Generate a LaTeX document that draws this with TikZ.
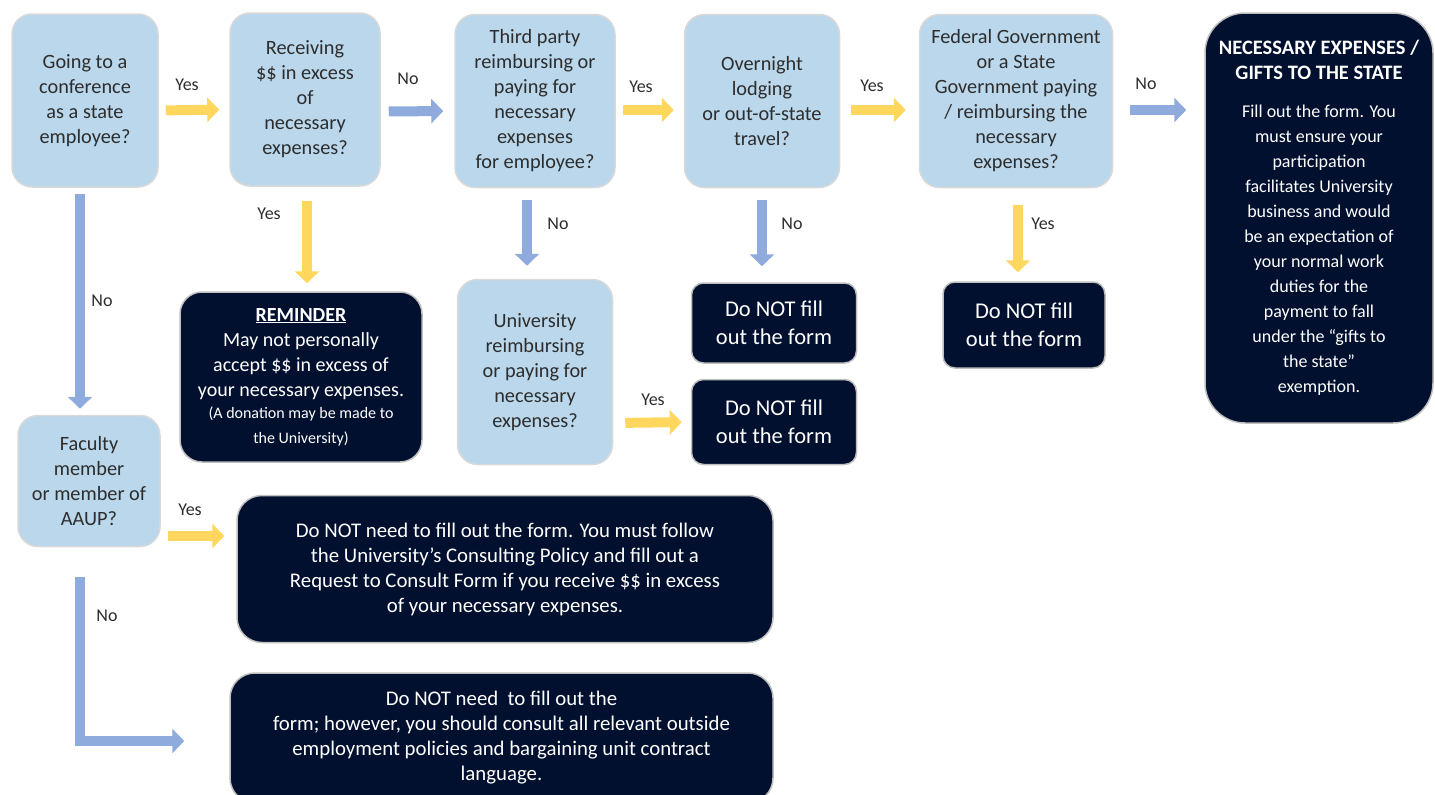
\documentclass[tikz,border=0pt]{standalone}
\usepackage{fontspec}
\setmainfont{Carlito}
\usetikzlibrary{arrows.meta}

\definecolor{qblue}{RGB}{186,215,236}
\definecolor{navy}{RGB}{2,16,48}
\definecolor{yesyellow}{RGB}{255,215,95}
\definecolor{noblue}{RGB}{143,170,220}
\definecolor{txtgray}{RGB}{45,45,45}

\tikzset{
  question/.style={draw=black!15, line width=1.5pt, fill=qblue, text=txtgray,
    rounded corners=20pt, align=center, inner sep=0pt,
    font=\fontsize{20.3}{25}\selectfont},
  answer/.style={draw=black!25, line width=1.5pt, fill=navy, text=white,
    rounded corners=12pt, align=center, inner sep=0pt,
    font=\fontsize{22.5}{28}\selectfont},
  yesarrow/.style={draw=yesyellow, line width=10pt,
    -{Triangle[length=12pt,width=24pt]}, shorten <=7pt, shorten >=10pt},
  noarrow/.style={yesarrow, draw=noblue},
  lbl/.style={text=txtgray, font=\fontsize{18}{20}\selectfont},
}

\begin{document}
\begin{tikzpicture}[x=1pt,y=-1pt]
  \useasboundingbox (0,0) rectangle (1435,795);
  % questions
  \node[question, minimum width=146pt, minimum height=173pt] (conf) at (85,100.5)
    {Going to a\\conference\\as a state\\employee?};
  \node[question, minimum width=150pt, minimum height=173pt] (recv) at (305,99.5)
    {Receiving\\\$\$ in excess\\of\\necessary\\expenses?};
  \node[question, minimum width=160pt, minimum height=173pt] (third) at (535,101)
    {Third party\\reimbursing or\\paying for\\necessary\\expenses\\for employee?};
  \node[question, minimum width=155pt, minimum height=173pt] (over) at (762,101)
    {Overnight\\lodging\\or out-of-state\\travel?};
  \node[question, minimum width=193pt, minimum height=173pt] (fed) at (1016,101)
    {Federal Government\\or a State\\Government paying\\/ reimbursing the\\necessary\\expenses?};
  \node[question, minimum width=155pt, minimum height=185pt] (univ) at (535,372)
    {University\\reimbursing\\or paying for\\necessary\\expenses?};
  \node[question, minimum width=142pt, minimum height=131pt] (fac) at (89,481)
    {Faculty\\member\\or member of\\AAUP?};
  % outcomes
  \node[answer, rounded corners=40pt, minimum width=228pt, minimum height=410pt,
    font=\fontsize{18}{25}\selectfont] (gifts) at (1319,218)
    {\fontsize{20.5}{25}\selectfont\textbf{NECESSARY EXPENSES /}\\
     \fontsize{20.5}{25}\selectfont\textbf{GIFTS TO THE STATE}\\[13pt]
     Fill out the form. You\\must ensure your\\participation\\facilitates University\\
     business and would\\be an expectation of\\your normal work\\duties for the\\
     payment to fall\\under the “gifts to\\the state”\\exemption.};
  \node[answer, rounded corners=22pt, minimum width=242pt, minimum height=170pt,
    font=\fontsize{20}{25}\selectfont] (remind) at (301,377)
    {\underline{\textbf{REMINDER}}\\May not personally\\accept \$\$ in excess of\\
     your necessary expenses.\\[-3pt]
     \fontsize{16}{21}\selectfont (A donation may be made to\\
     \fontsize{16}{21}\selectfont the University)};
  \node[answer, minimum width=165pt, minimum height=80pt] (dnover) at (774,323)
    {Do NOT fill\\out the form};
  \node[answer, minimum width=165pt, minimum height=85pt] (dnuniv) at (774,422)
    {Do NOT fill\\out the form};
  \node[answer, minimum width=162pt, minimum height=86pt] (dnfed) at (1024,325)
    {Do NOT fill\\out the form};
  \node[answer, rounded corners=25pt, minimum width=536pt, minimum height=147pt,
    font=\fontsize{20.8}{25}\selectfont] (consult) at (505,569)
    {Do NOT need to fill out the form. You must follow\\
     the University’s Consulting Policy and fill out a\\
     Request to Consult Form if you receive \$\$ in excess\\
     of your necessary expenses.};
  \node[answer, rounded corners=25pt, minimum width=543pt, minimum height=130pt,
    font=\fontsize{20.8}{25}\selectfont] (outside) at (501.5,738)
    {Do NOT need\ \ to fill out the\\
     form; however, you should consult all relevant outside\\
     employment policies and bargaining unit contract\\
     language.};
  % arrows
  \draw[yesarrow] ([yshift=-10pt]conf.east) -- ([yshift=-10pt]recv.west);
  \draw[noarrow, shorten <=8pt, shorten >=11pt] ([yshift=-12pt]recv.east) -- ([yshift=-10pt]third.west);
  \draw[yesarrow] ([yshift=-9pt]third.east) -- ([yshift=-9pt]over.west);
  \draw[yesarrow, shorten <=11pt, shorten >=13pt] ([yshift=-9pt]over.east) -- ([yshift=-9pt]fed.west);
  \draw[noarrow, shorten <=17pt, shorten >=18pt] ([yshift=-9pt]fed.east) -- ([yshift=-9pt]fed.east -| gifts.west);
  \draw[yesarrow, shorten <=14pt, shorten >=8pt] ([xshift=2pt]recv.south) -- ([xshift=2pt]recv.south |- remind.north);
  \draw[noarrow, shorten <=12pt, shorten >=13pt] ([xshift=-8pt]third.south) -- ([xshift=-8pt]univ.north);
  \draw[noarrow, shorten <=12pt, shorten >=16pt] (over.south) -- (over.south |- dnover.north);
  \draw[yesarrow, shorten <=17pt, shorten >=9pt] ([xshift=2pt]fed.south) -- ([xshift=2pt]fed.south |- dnfed.north);
  \draw[noarrow, shorten <=6pt, shorten >=6pt] ([xshift=-5pt]conf.south) -- ([xshift=-9pt]fac.north);
  \draw[yesarrow, shorten <=12pt, shorten >=9pt] ([yshift=-51pt]univ.east) -- (dnuniv.west);
  \draw[yesarrow, shorten <=7pt, shorten >=12pt] ([yshift=-55pt]fac.east) -- ([yshift=-55pt]fac.east -| consult.west);
  \draw[noarrow, shorten <=30pt, shorten >=45pt] ([xshift=-9pt]fac.south) |- ([yshift=-3pt]outside.west);
  % labels
  \node[lbl] (l1) at (187,85) {Yes};
  \node[lbl] (l2) at (408,79) {No};
  \node[lbl] (l3) at (641,87) {Yes};
  \node[lbl] (l4) at (872,86) {Yes};
  \node[lbl] (l5) at (1146,84) {No};
  \node[lbl] (l6) at (269,214) {Yes};
  \node[lbl] (l7) at (558,224) {No};
  \node[lbl] (l8) at (792,224) {No};
  \node[lbl] (l9) at (1043,224) {Yes};
  \node[lbl] (l10) at (102,301) {No};
  \node[lbl] (l11) at (653,400) {Yes};
  \node[lbl] (l12) at (190,510) {Yes};
  \node[lbl] (l13) at (107,616) {No};
\end{tikzpicture}
\end{document}
